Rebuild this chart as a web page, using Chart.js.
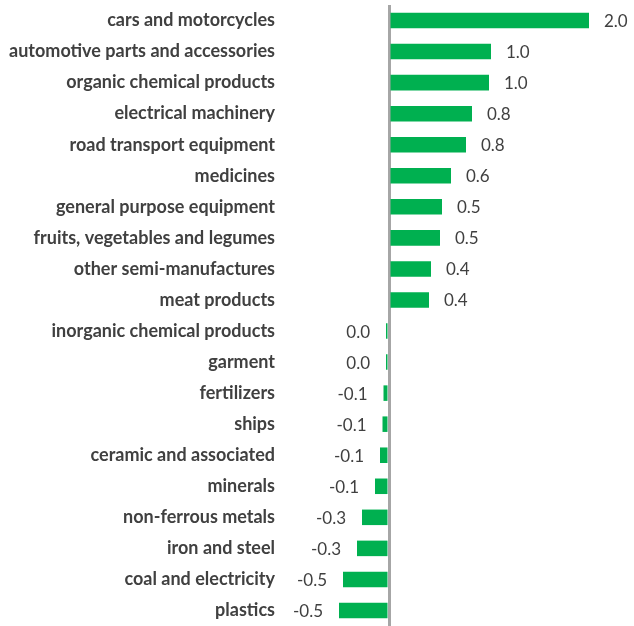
<!DOCTYPE html>
<html>
<head>
<meta charset="utf-8">
<script src="https://cdn.jsdelivr.net/npm/chart.js@4.4.1/dist/chart.umd.min.js"></script>
<style>
  html, body { margin: 0; padding: 0; background: #ffffff; }
  #wrap { position: relative; width: 634px; height: 626px; }
</style>
</head>
<body>
<div id="wrap"><canvas id="c"></canvas></div>
<script>
const categories = [
  "cars and motorcycles",
  "automotive parts and accessories",
  "organic chemical products",
  "electrical machinery",
  "road transport equipment",
  "medicines",
  "general purpose equipment",
  "fruits, vegetables and legumes",
  "other semi-manufactures",
  "meat products",
  "inorganic chemical products",
  "garment",
  "fertilizers",
  "ships",
  "ceramic and associated",
  "minerals",
  "non-ferrous metals",
  "iron and steel",
  "coal and electricity",
  "plastics"
];
const values = [2.0, 1.02, 1.0, 0.83, 0.77, 0.62, 0.53, 0.51, 0.42, 0.40,
  -0.03, -0.03, -0.055, -0.065, -0.09, -0.14, -0.27, -0.32, -0.46, -0.50];
const xMin = -1.06;
const xMax = 2.45;

function fmt(v) {
  if (Math.abs(v) < 0.05) return "0.0";
  return v.toFixed(1);
}

const valueLabels = {
  id: 'valueLabels',
  afterDatasetsDraw(chart) {
    const ctx = chart.ctx;
    const meta = chart.getDatasetMeta(0);
    ctx.save();
    ctx.font = '17px Lato';
    ctx.fillStyle = '#404040';
    ctx.textBaseline = 'middle';
    meta.data.forEach((el, i) => {
      const v = values[i];
      if (v >= 0) {
        ctx.textAlign = 'left';
        ctx.fillText(fmt(v), el.x + 15, el.y + 1);
      } else {
        ctx.textAlign = 'right';
        ctx.fillText(fmt(v), el.x - 16, el.y + 1);
      }
    });
    ctx.restore();
  }
};

new Chart(document.getElementById('c'), {
  type: 'bar',
  data: {
    labels: categories,
    datasets: [{
      data: values,
      backgroundColor: '#00b050',
      borderWidth: 0,
      categoryPercentage: 1.0,
      barPercentage: 0.5
    }]
  },
  options: {
    indexAxis: 'y',
    responsive: true,
    maintainAspectRatio: false,
    animation: false,
    layout: { padding: { top: 5, bottom: 0, left: 0, right: 0 } },
    plugins: { legend: { display: false }, tooltip: { enabled: false } },
    scales: {
      x: {
        min: xMin,
        max: xMax,
        z: 1,
        afterBuildTicks(scale) { scale.ticks = [{ value: 0 }]; },
        afterFit(scale) { scale.height = 0; scale.paddingLeft = 0; scale.paddingRight = 0; },
        ticks: { display: false },
        border: { display: false },
        grid: {
          drawTicks: false,
          lineWidth: 3,
          color: (c) => (c.tick && c.tick.value === 0) ? '#a6a6a6' : 'rgba(0,0,0,0)'
        }
      },
      y: {
        afterFit(scale) { scale.width = 283; scale.paddingTop = 0; scale.paddingBottom = 0; },
        border: { display: false },
        grid: { display: false, drawTicks: false },
        ticks: {
          padding: 8,
          color: '#404040',
          font: { family: 'Lato', size: 18, weight: 'bold' }
        }
      }
    }
  },
  plugins: [valueLabels]
});
</script>
</body>
</html>
